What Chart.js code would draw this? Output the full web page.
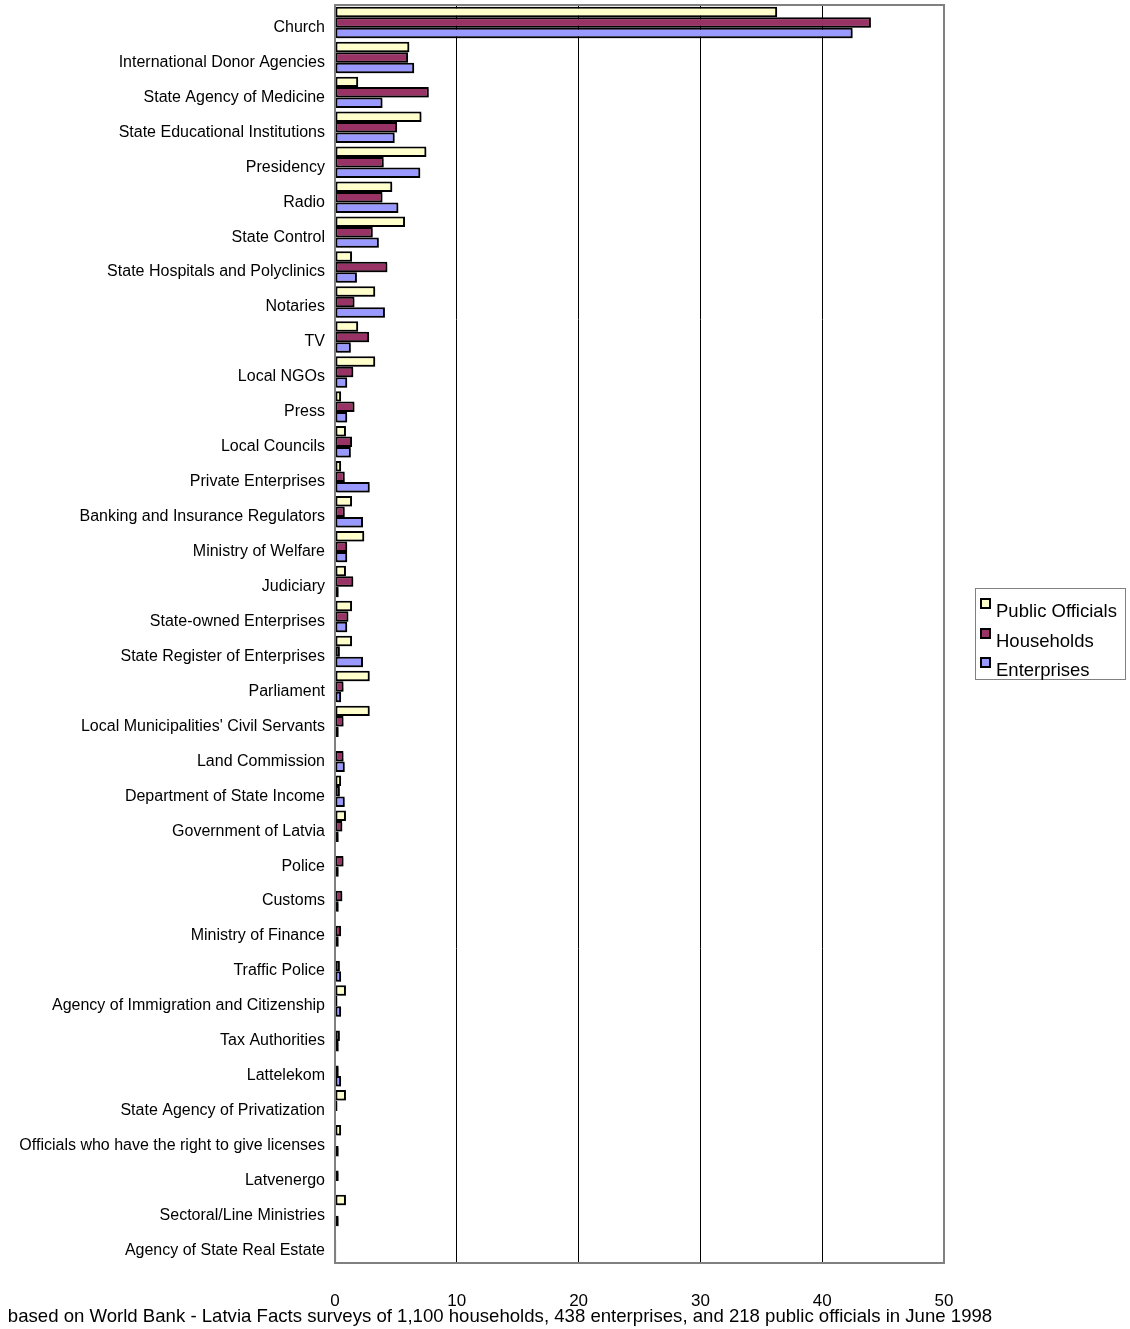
<!DOCTYPE html>
<html>
<head>
<meta charset="utf-8">
<script src="https://cdn.jsdelivr.net/npm/chart.js@4.4.1/dist/chart.umd.min.js"></script>
<style>
  html, body { margin: 0; padding: 0; background: #fff; }
  #wrap { position: relative; width: 1130px; height: 1329px; font-family: "Liberation Sans", Arial, sans-serif; }
  #chart { position: absolute; left: 0; top: 0; }
  #legend { position: absolute; left: 975px; top: 588px; width: 151px; height: 92px; border: 1px solid #808080; box-sizing: border-box; }
  .item { position: absolute; left: 0; font-size: 18.5px; color: #000; white-space: nowrap; }
  .sw { position: absolute; left: 4px; width: 11px; height: 11px; border: 2px solid #000; box-sizing: border-box; }
  .lbl { position: absolute; left: 20px; line-height: 20px; }
  #caption { position: absolute; left: 0; top: 1305px; width: 1000px; text-align: center; font-size: 18.6px; color: #000; }
</style>
</head>
<body>
<div id="wrap">
  <canvas id="chart" width="1130" height="1329"></canvas>
  <div id="legend"></div>
  <div id="caption">based on World Bank - Latvia Facts surveys of 1,100 households, 438 enterprises, and 218 public officials in June 1998</div>
</div>
<script>
const categories = [
  'Church', 'International Donor Agencies', 'State Agency of Medicine', 'State Educational Institutions',
  'Presidency', 'Radio', 'State Control', 'State Hospitals and Polyclinics', 'Notaries', 'TV',
  'Local NGOs', 'Press', 'Local Councils', 'Private Enterprises', 'Banking and Insurance Regulators',
  'Ministry of Welfare', 'Judiciary', 'State-owned Enterprises', 'State Register of Enterprises',
  'Parliament', "Local Municipalities' Civil Servants", 'Land Commission', 'Department of State Income',
  'Government of Latvia', 'Police', 'Customs', 'Ministry of Finance', 'Traffic Police',
  'Agency of Immigration and Citizenship', 'Tax Authorities', 'Lattelekom', 'State Agency of Privatization',
  'Officials who have the right to give licenses', 'Latvenergo', 'Sectoral/Line Ministries',
  'Agency of State Real Estate'
];

const publicOfficials = [36.3, 6.1, 1.9, 7.1, 7.5, 4.7, 5.75, 1.4, 3.3, 1.9, 3.3, 0.5, 0.9, 0.5, 1.4, 2.4, 0.9, 1.4,
  1.4, 2.85, 2.85, 0, 0.5, 0.9, 0, 0, 0, 0, 0.9, 0, 0, 0.9, 0.5, 0, 0.9, 0];
const households = [44.0, 6.0, 7.7, 5.1, 4.0, 3.9, 3.1, 4.3, 1.6, 2.8, 1.5, 1.6, 1.4, 0.8, 0.8, 1.0, 1.5, 1.1,
  0.4, 0.7, 0.7, 0.7, 0.4, 0.6, 0.7, 0.6, 0.5, 0.4, 0.2, 0.4, 0.3, 0.2, 0.1, 0.3, 0, 0.1];
const enterprises = [42.5, 6.5, 3.9, 4.9, 7.0, 5.2, 3.6, 1.8, 4.1, 1.3, 1.0, 1.0, 1.3, 2.85, 2.3, 1.0, 0.3, 1.0,
  2.3, 0.5, 0.3, 0.8, 0.8, 0.3, 0.3, 0.3, 0.3, 0.5, 0.5, 0.3, 0.5, 0, 0.3, 0, 0.3, 0.1];

const xTicks = [0, 10, 20, 30, 40, 50];

const seriesNames = ['Public Officials', 'Households', 'Enterprises'];
const seriesColors = ['#FFFFCC', '#993366', '#9999FF'];

// cadre gris autour de la zone de tracé
const plotBorder = {
  id: 'plotBorder',
  afterDraw(chart) {
    const a = chart.chartArea, ctx = chart.ctx;
    ctx.save();
    ctx.strokeStyle = '#808080';
    ctx.lineWidth = 2;
    ctx.strokeRect(a.left, a.top, a.right - a.left, a.bottom - a.top);
    ctx.restore();
  }
};

// ombre légère sous les barres
const barShadow = {
  id: 'barShadow',
  beforeDatasetsDraw(chart) {
    const ctx = chart.ctx;
    ctx.save();
    ctx.shadowColor = 'rgba(0,0,0,0.35)';
    ctx.shadowOffsetX = 2;
    ctx.shadowOffsetY = 2;
    ctx.shadowBlur = 1;
  },
  afterDatasetsDraw(chart) {
    chart.ctx.restore();
  }
};

const values = [publicOfficials, households, enterprises];

const chart = new Chart(document.getElementById('chart'), {
  type: 'bar',
  data: {
    labels: categories,
    datasets: seriesNames.map((name, i) => ({
      label: name,
      data: values[i],
      backgroundColor: seriesColors[i],
      borderColor: '#000',
      borderWidth: 2,
      borderSkipped: false,
      categoryPercentage: 0.9,
      barPercentage: 1.0
    }))
  },
  options: {
    indexAxis: 'y',
    responsive: false,
    animation: false,
    layout: { padding: { top: 5, right: 186, left: 0, bottom: 0 } },
    plugins: {
      legend: { display: false },
      tooltip: { enabled: false }
    },
    scales: {
      x: {
        min: 0,
        max: 50,
        afterBuildTicks(s) { s.ticks = xTicks.map(v => ({ value: v })); },
        afterFit(s) { s.height = 66; },
        ticks: {
          color: '#000',
          font: { family: '"Liberation Sans", Arial, sans-serif', size: 17 },
          padding: 28
        },
        grid: {
          drawTicks: false,
          color: c => (c.tick && (c.tick.value === 0 || c.tick.value === 50)) ? 'rgba(0,0,0,0)' : '#000',
          lineWidth: 1
        },
        border: { display: false }
      },
      y: {
        afterFit(s) {
          s.width = 335;
          s.paddingTop = 0;
          s.paddingBottom = 0;
        },
        ticks: {
          color: '#000',
          autoSkip: false,
          font: { family: '"Liberation Sans", Arial, sans-serif', size: 16 },
          padding: 10,
          labelOffset: 5
        },
        grid: { display: false, drawTicks: false },
        border: { display: false }
      }
    }
  },
  plugins: [barShadow, plotBorder]
});

// légende HTML
const legend = document.getElementById('legend');
seriesNames.forEach((name, i) => {
  const item = document.createElement('div');
  item.className = 'item';
  item.style.top = (12 + i * 29.5) + 'px';
  item.innerHTML = '<span class="sw" style="top:-3px;background:' + seriesColors[i] + '"></span>' +
    '<span class="lbl" style="top:0">' + name + '</span>';
  legend.appendChild(item);
});
</script>
</body>
</html>
